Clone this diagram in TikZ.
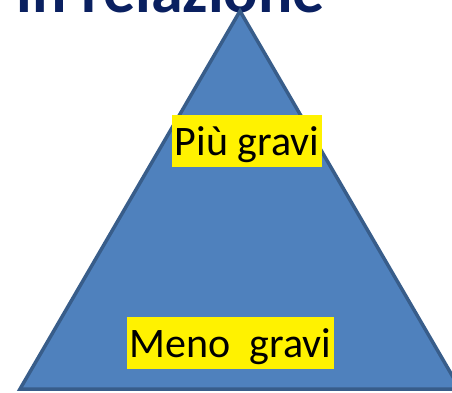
\documentclass[tikz,border=0pt]{standalone}
\usepackage{fontspec}
\setmainfont{Carlito}
\definecolor{tri}{RGB}{79,129,189}
\definecolor{triedge}{RGB}{56,93,138}
\definecolor{titlec}{RGB}{10,32,96}
\tikzset{lbl/.style={fill=yellow, inner xsep=3pt, inner ysep=0pt, text height=40pt, text depth=12pt, font=\fontsize{42}{46}\selectfont, text=black}}
\begin{document}
\begin{tikzpicture}[x=1pt,y=-1pt]
\useasboundingbox (0,0) rectangle (452,392);
\node[anchor=base east, inner sep=0pt, text=titlec, font=\fontsize{64}{70}\selectfont\bfseries] (title) at (325,12) {in relazione};
\draw[fill=tri, draw=triedge, line width=3.5pt] (240,11) -- (20,389) -- (460,389) -- cycle;
\node[lbl] (top) at (247,141) {Più gravi};
\node[lbl] (bottom) at (230.5,343) {Meno\ \ gravi};
\end{tikzpicture}
\end{document}
